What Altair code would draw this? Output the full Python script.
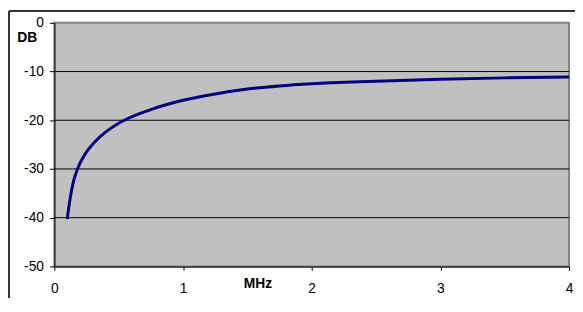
import altair as alt
import pandas as pd

freq_mhz = [0.10, 0.12, 0.15, 0.18, 0.24, 0.32, 0.40, 0.50, 0.60, 0.75,
            1.00, 1.25, 1.50, 1.75, 2.00, 2.50, 3.00, 3.50, 4.00]
gain_db = [-40.3, -36.5, -32.4, -30.0, -26.9, -24.3, -22.4, -20.6, -19.3, -17.8,
           -15.9, -14.6, -13.6, -12.95, -12.5, -12.0, -11.6, -11.3, -11.1]
grid_values = [-10, -20, -30, -40]
x_ticks = [0, 1, 2, 3, 4]
y_ticks = [0, -10, -20, -30, -40, -50]

df = pd.DataFrame({"MHz": freq_mhz, "DB": gain_db})
grid_df = pd.DataFrame({"DB": grid_values})

FONT = "Liberation Sans"

xscale = alt.Scale(domain=[0, 4], nice=False, zero=False)
yscale = alt.Scale(domain=[-50, 0], nice=False)

x_axis = alt.Axis(values=x_ticks, title="MHz", grid=False,
                  titleX=206, titleY=17, titleAlign="center",
                  titleBaseline="middle", labelPadding=11, tickSize=4,
                  labelFlush=False, labelExpr="'' + datum.value")
y_axis = alt.Axis(values=y_ticks, title="DB", grid=False,
                  titleAngle=0, titleX=-28, titleY=15,
                  titleAlign="center", titleBaseline="middle",
                  tickSize=5, labelPadding=6, labelFlush=False,
                  labelExpr="'' + datum.value")

one = pd.DataFrame({"a": [0]})
frame_top = alt.Chart(one).mark_rule(color="#333333", strokeWidth=2, clip=False).encode(
    x=alt.value(-46), x2=alt.value(700), y=alt.value(-12)
)
frame_left = alt.Chart(one).mark_rule(color="#333333", strokeWidth=2, clip=False).encode(
    x=alt.value(-46), y=alt.value(-12), y2=alt.value(400)
)

grid = alt.Chart(grid_df).mark_rule(color="#000000", strokeWidth=1).encode(
    y=alt.Y("DB:Q", scale=yscale, axis=y_axis)
)

line = alt.Chart(df).mark_line(
    color="#000080", strokeWidth=3, interpolate="monotone"
).encode(
    x=alt.X("MHz:Q", scale=xscale, axis=x_axis),
    y=alt.Y("DB:Q", scale=yscale, axis=y_axis),
)

chart = alt.layer(frame_top, frame_left, grid, line).properties(
    width=522, height=247,
    autosize=alt.AutoSizeParams(type="none"),
    padding={"left": 47, "top": 13, "right": 6, "bottom": 30},
    background="white",
).configure_view(
    fill="#C0C0C0", stroke="#808080", strokeWidth=2
).configure_axis(
    labelFont=FONT, labelFontSize=14, labelColor="#000000",
    titleFont=FONT, titleFontSize=14, titleFontWeight="bold", titleColor="#000000",
    domainColor="#303030", domainWidth=1.5, tickColor="#000000", tickWidth=1,
)

chart.save("out.html", embed_options={"renderer": "svg", "actions": False})
